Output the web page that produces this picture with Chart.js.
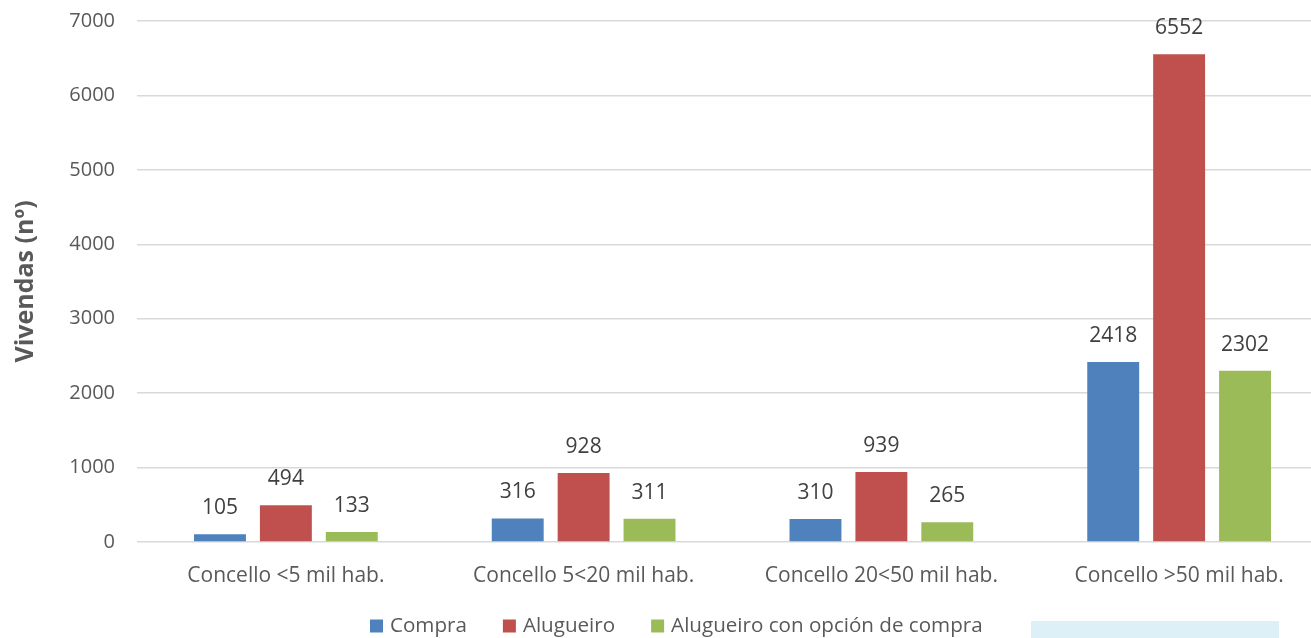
<!DOCTYPE html>
<html>
<head>
<meta charset="utf-8">
<script src="https://cdn.jsdelivr.net/npm/chart.js@4.4.1/dist/chart.umd.min.js"></script>
<style>
  html, body { margin: 0; padding: 0; background: #fff; overflow: hidden; }
  #wrap { position: relative; width: 1311px; height: 638px; overflow: hidden; }
  #c { position: absolute; left: 0; top: 0; }
  #deco { position: absolute; left: 1031px; top: 621px; width: 248px; height: 17px; background: #ddf0f8; }
</style>
</head>
<body>
<div id="wrap">
  <canvas id="c" width="1328" height="638"></canvas>
  <div id="deco"></div>
</div>
<script>
const categories = ["Concello <5 mil hab.", "Concello 5<20 mil hab.", "Concello 20<50 mil hab.", "Concello >50 mil hab."];
const seriesNames = ["Compra", "Alugueiro", "Alugueiro con opción de compra"];
const compra = [105, 316, 310, 2418];
const alugueiro = [494, 928, 939, 6552];
const alugueiroOpcion = [133, 311, 265, 2302];
const yTicks = [0, 1000, 2000, 3000, 4000, 5000, 6000, 7000];
const colors = ["#4f81bd", "#c0504d", "#9bbb59"];
const yTitle = "Vivendas (nº)";

const FONT = "'Open Sans', sans-serif";

const valueLabels = {
  id: 'valueLabels',
  afterDatasetsDraw(chart) {
    const ctx = chart.ctx;
    ctx.save();
    ctx.font = "21px " + FONT;
    ctx.fillStyle = "#404040";
    ctx.textAlign = "center";
    ctx.textBaseline = "middle";
    chart.data.datasets.forEach((ds, i) => {
      chart.getDatasetMeta(i).data.forEach((bar, j) => {
        ctx.fillText(String(ds.data[j]), bar.x, bar.y - 26);
      });
    });
    ctx.restore();
  }
};

const customLegend = {
  id: 'customLegend',
  afterDraw(chart) {
    const ctx = chart.ctx;
    ctx.save();
    ctx.font = "20.6px " + FONT;
    ctx.textBaseline = "middle";
    ctx.textAlign = "left";
    const box = 13, gapBoxText = 7, gapItems = 36, cy = 626;
    let x = 370;
    chart.data.datasets.forEach((ds) => {
      ctx.fillStyle = ds.backgroundColor;
      ctx.fillRect(x, cy - box / 2, box, box);
      x += box + gapBoxText;
      ctx.fillStyle = '#595959';
      ctx.fillText(ds.label, x, cy);
      x += ctx.measureText(ds.label).width + gapItems;
    });
    ctx.restore();
  }
};

new Chart(document.getElementById('c'), {
  type: 'bar',
  data: {
    labels: categories,
    datasets: [
      { label: seriesNames[0], data: compra, backgroundColor: colors[0] },
      { label: seriesNames[1], data: alugueiro, backgroundColor: colors[1] },
      { label: seriesNames[2], data: alugueiroOpcion, backgroundColor: colors[2] }
    ]
  },
  options: {
    responsive: false,
    animation: false,
    layout: { padding: { top: 21, right: 0, bottom: 0, left: 0 } },
    datasets: { bar: { categoryPercentage: 0.664, barPercentage: 0.788 } },
    plugins: {
      legend: { display: false },
      tooltip: { enabled: false }
    },
    scales: {
      x: {
        grid: { display: false },
        border: { display: false },
        ticks: { font: { family: FONT, size: 21 }, color: '#595959', padding: 13 },
        afterFit(s) { s.height = 96; s.paddingLeft = 0; s.paddingRight = 0; }
      },
      y: {
        min: 0, max: 7000,
        afterBuildTicks(s) { s.ticks = yTicks.map(v => ({ value: v })); },
        ticks: { font: { family: FONT, size: 20 }, color: '#595959', padding: 22, callback: v => String(v) },
        grid: { color: '#d9d9d9', lineWidth: 1.5, drawTicks: false },
        border: { display: false },
        title: { display: true, text: yTitle, font: { family: FONT, size: 25, weight: 'bold' }, color: '#595959', padding: { top: 11, bottom: 0 } },
        afterFit(s) { s.width = 137; s.paddingTop = 0; s.paddingBottom = 0; }
      }
    }
  },
  plugins: [valueLabels, customLegend]
});
</script>
</body>
</html>
